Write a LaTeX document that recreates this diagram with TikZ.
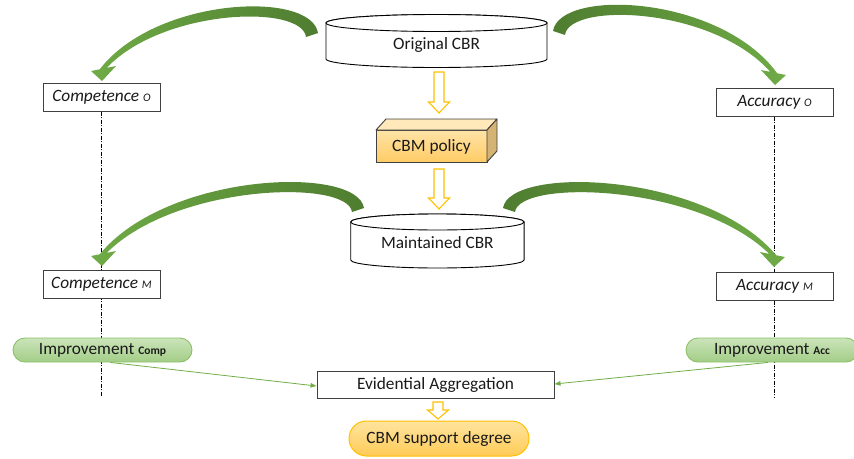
\documentclass[tikz,border=0pt]{standalone}
\usepackage{fontspec}
\setmainfont{Carlito}
\usetikzlibrary{calc,arrows.meta,backgrounds}
\definecolor{gdark}{HTML}{4F7D30}
\definecolor{gmid}{HTML}{6FAB46}
\definecolor{pilltop}{HTML}{CBE4BA}
\definecolor{pillbot}{HTML}{A3CD87}
\definecolor{pillline}{HTML}{8CC168}
\definecolor{thinc}{HTML}{70AD47}
\definecolor{otop}{HTML}{FFE49E}
\definecolor{obot}{HTML}{FFCB57}
\definecolor{oline}{HTML}{FFC000}
\definecolor{ptop}{HTML}{FFE3A6}
\definecolor{pbot}{HTML}{FFCC66}
\definecolor{pface}{HTML}{FFE8BA}
\definecolor{pside}{HTML}{D4B374}
\definecolor{boxline}{HTML}{404040}
\definecolor{txt}{HTML}{1A1A1A}
\newcommand\subsc[1]{{\fontsize{11.5}{11.5}\selectfont #1}}
% #1 tail, #2 tip, #3 side sign, #4 length, #5 shading options
\newcommand\grarrow[5]{%
  \shade[#5] ($(#1)+({-6*(#3)},-2)$)
    .. controls ($(#1)+({1*(#3)},-45)$) and ($(#1)+({0.745*#4*(#3)},-38)$) .. ($(#2)+({2.2*(#3)},-11.75)$)
    -- ($(#2)+({11*(#3)},-10)$) -- (#2) -- ($(#2)+({-14*(#3)},-15)$) -- ($(#2)+({-4.7*(#3)},-13.1)$)
    .. controls ($(#1)+({0.71*#4*(#3)},-26.5)$) and ($(#1)+({10*(#3)},-31)$) .. ($(#1)+({6*(#3)},2)$) -- cycle;}
% #1 top, #2 tip, #3 head length
\newcommand\yarrow[3]{%
  \draw[yarr] ($(#1)+(-5,0)$) -- ($(#1)+(5,0)$) -- ($(#2)+(5,-#3)$) -- ($(#2)+(10.5,-#3)$)
    -- (#2) -- ($(#2)+(-10.5,-#3)$) -- ($(#2)+(-5,-#3)$) -- cycle;}
\begin{document}
\begin{tikzpicture}[x=1pt,y=-1pt,
  every node/.style={font=\fontsize{17.3}{20}\selectfont, text=txt, inner sep=0pt},
  plainbox/.style={draw=boxline, line width=1pt, fill=white, minimum width=117pt, minimum height=28pt},
  greenpill/.style={draw=pillline, line width=0.9pt, top color=pilltop, bottom color=pillbot,
    rounded corners=12pt, minimum height=24pt},
  orangepill/.style={draw=oline, line width=1pt, top color=otop, bottom color=obot,
    rounded corners=17.5pt, minimum width=180pt, minimum height=35pt},
  cyl/.style={draw=black, line width=0.9pt, fill=white},
  yarr/.style={draw=oline, line width=1.1pt, fill=white, line join=miter},
  thinarr/.style={draw=thinc, line width=0.8pt, -{Triangle[length=6pt,width=4.5pt]}},
  dashdot/.style={draw=black, line width=0.6pt, dash pattern=on 4pt off 1.5pt on 1pt off 1.5pt},
  gleft/.style={left color=gmid, right color=gdark},
  gright/.style={left color=gdark, right color=gmid}]
\useasboundingbox (0,0) rectangle (854,458);

% cylinders
\draw[cyl] (326,23) -- (326,59) arc[start angle=180,end angle=360,x radius=110.5pt,y radius=8.5pt]
  -- (547,23) arc[start angle=0,end angle=180,x radius=110.5pt,y radius=8.5pt] -- cycle;
\draw[cyl] (436.5,23) ellipse[x radius=110.5pt,y radius=8.5pt];
\node (orig) at (436.5,45) {Original CBR};

\draw[cyl] (350.7,222) -- (350.7,260) arc[start angle=180,end angle=360,x radius=86.7pt,y radius=8pt]
  -- (524.1,222) arc[start angle=0,end angle=180,x radius=86.7pt,y radius=8pt] -- cycle;
\draw[cyl] (437.4,222) ellipse[x radius=86.7pt,y radius=8pt];
\node (maint) at (437.4,243) {Maintained CBR};

% CBM policy box
\draw[draw=boxline, line width=0.9pt, top color=ptop, bottom color=pbot] (376,130) rectangle (487,162);
\draw[draw=boxline, line width=0.9pt, fill=pface, line join=round] (376,130) -- (386,119) -- (497,119) -- (487,130) -- cycle;
\draw[draw=boxline, line width=0.9pt, fill=pside, line join=round] (487,130) -- (497,119) -- (497,151) -- (487,162) -- cycle;
\node (policy) at (431.5,146.5) {CBM policy};

% boxes
\node[plainbox] (co) at (101.5,97) {\itshape Competence \subsc{O}};
\node[plainbox] (ao) at (774.5,102) {\itshape Accuracy \subsc{O}};
\node[plainbox] (cm) at (101.5,284) {\itshape Competence \subsc{M}};
\node[plainbox] (am) at (774.5,286) {\itshape Accuracy \subsc{M}};
\node[plainbox, minimum width=237pt, minimum height=27pt] (ea) at (435.5,384.5) {Evidential Aggregation};
\node[greenpill, minimum width=179pt] (ic) at (102.5,350) {Improvement \subsc{\bfseries Comp}};
\node[greenpill, minimum width=172pt] (ia) at (772,350) {Improvement \subsc{\bfseries Acc}};
\node[orangepill] (sup) at (439,438.5) {CBM support degree};

% dash-dot guide lines
\begin{scope}[on background layer]
\coordinate (cend) at (101.5,397);
\coordinate (aend) at (774.5,398);
\draw[dashdot] (co.south) -- (cend);
\draw[dashdot] (ao.south) -- (aend);
\end{scope}

% green curved arrows
\coordinate (t1) at (312,35);  \coordinate (h1) at (102,81);
\coordinate (t2) at (559,33);  \coordinate (h2) at (775,85);
\coordinate (t3) at (358,210); \coordinate (h3) at (102,266);
\coordinate (t4) at (509,210); \coordinate (h4) at (774,267);
\grarrow{t1}{h1}{-1}{210}{gleft}
\grarrow{t2}{h2}{1}{216}{gright}
\grarrow{t3}{h3}{-1}{256}{gleft}
\grarrow{t4}{h4}{1}{265}{gright}

% yellow hollow arrows
\coordinate (ya1) at (439,72);  \coordinate (yb1) at (439,113);
\coordinate (ya2) at (439,169); \coordinate (yb2) at (439,209);
\coordinate (ya3) at (438,402); \coordinate (yb3) at (438,419);
\yarrow{ya1}{yb1}{11}
\yarrow{ya2}{yb2}{11}
\yarrow{ya3}{yb3}{9}

% thin green connectors
\draw[thinarr] ($(ic.south)+(8,0)$) -- ($(ea.west)+(0,1.5)$);
\draw[thinarr] ($(ia.south)+(-4,0)$) -- ($(ea.east)+(0,-0.5)$);
\end{tikzpicture}
\end{document}
